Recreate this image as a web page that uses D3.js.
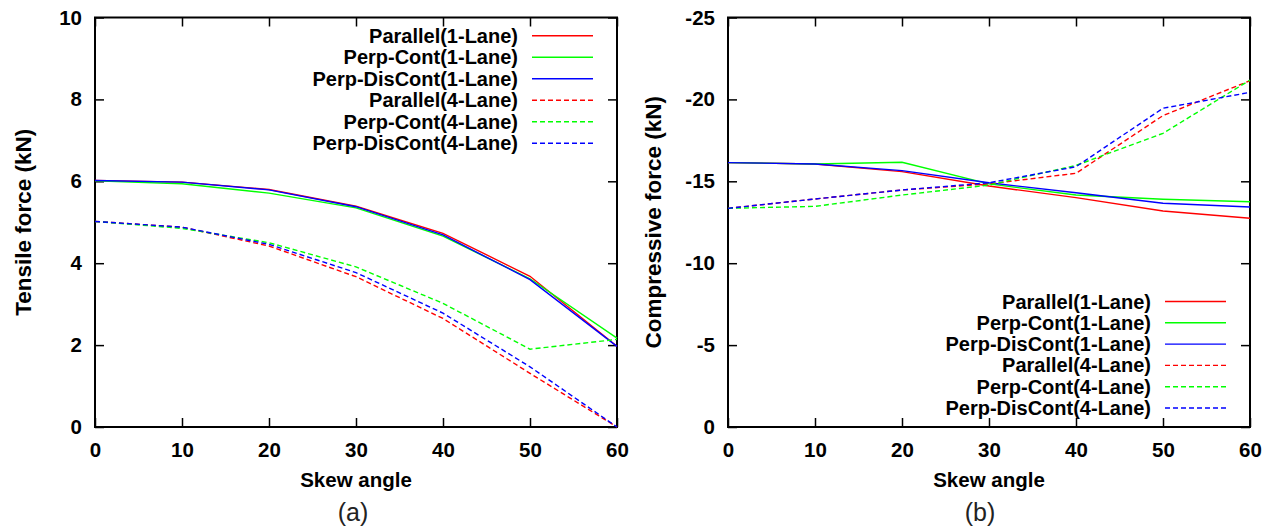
<!DOCTYPE html>
<html>
<head>
<meta charset=utf-8>
<title>Skew angle forces</title>
<style>
body{margin: 0; background: #fff;}
svg{display: block; font-family: "Liberation Sans", Arial, sans-serif;}
.axis text{font-size: 20.5px; font-weight: bold; fill: #000;}
.axis line{stroke: #000; stroke-width: 1.5px;}
.title{font-size: 20.5px; font-weight: bold;}
.ytitle{font-size: 22.5px; font-weight: bold;}
.legend text{font-size: 20px; font-weight: bold;}
.caption{font-size: 25px; fill: #222;}
</style>
</head>
<body>
<div id=wholechart></div>
<script src='https://cdn.jsdelivr.net/npm/d3@7'></script>
<script>
//data
var skewAngles = [0, 10, 20, 30, 40, 50, 60];
var seriesNames = ['Parallel(1-Lane)', 'Perp-Cont(1-Lane)', 'Perp-DisCont(1-Lane)',
                   'Parallel(4-Lane)', 'Perp-Cont(4-Lane)', 'Perp-DisCont(4-Lane)'];
var seriesColors = ['#ff0000', '#00ff00', '#0000ff', '#ff0000', '#00ff00', '#0000ff'];
var seriesDashed = [false, false, false, true, true, true];

//(a) tensile force, kN
var tensileParallel1 = [6.02, 5.98, 5.80, 5.39, 4.73, 3.68, 1.97];
var tensilePerpCont1 = [6.01, 5.94, 5.71, 5.35, 4.66, 3.62, 2.17];
var tensilePerpDis1  = [6.02, 5.98, 5.79, 5.38, 4.69, 3.60, 1.97];
var tensileParallel4 = [5.02, 4.88, 4.42, 3.67, 2.65, 1.31, 0.00];
var tensilePerpCont4 = [5.02, 4.85, 4.50, 3.91, 3.02, 1.90, 2.14];
var tensilePerpDis4  = [5.02, 4.88, 4.46, 3.77, 2.78, 1.47, 0.00];
var tensileTicks = [0, 2, 4, 6, 8, 10];

//(b) compressive force, kN
var compParallel1 = [-16.14, -16.06, -15.59, -14.71, -14.00, -13.19, -12.74];
var compPerpCont1 = [-16.14, -16.06, -16.16, -14.84, -14.16, -13.90, -13.75];
var compPerpDis1  = [-16.14, -16.06, -15.65, -14.91, -14.30, -13.66, -13.43];
var compParallel4 = [-13.35, -13.92, -14.47, -14.84, -15.49, -19.01, -21.14];
var compPerpCont4 = [-13.35, -13.47, -14.16, -14.77, -15.97, -17.93, -21.18];
var compPerpDis4  = [-13.35, -13.92, -14.47, -14.91, -15.89, -19.46, -20.43];
var compTicks = [0, -5, -10, -15, -20, -25];

var xTicks = [0, 10, 20, 30, 40, 50, 60];

var svg = d3.select('#wholechart').append('svg')
    .attr('width', 1276)
    .attr('height', 527);

var panels = [
  {left: 95, right: 617, top: 17.5, bottom: 427,
   domain: [0, 10], ticks: tensileTicks, ytitle: 'Tensile force (kN)', ytitleX: 23,
   caption: '(a)', captionX: 353, legendY: 35.7, legendStep: 21.5,
   series: [tensileParallel1, tensilePerpCont1, tensilePerpDis1, tensileParallel4, tensilePerpCont4, tensilePerpDis4]},
  {left: 728, right: 1250, top: 17.5, bottom: 427,
   domain: [0, -25], ticks: compTicks, ytitle: 'Compressive force (kN)', ytitleX: 653,
   caption: '(b)', captionX: 980, legendY: 301.5, legendStep: 21.3,
   series: [compParallel1, compPerpCont1, compPerpDis1, compParallel4, compPerpCont4, compPerpDis4]}
];

panels.forEach(drawPanel);

function drawPanel(p){
  var x = d3.scaleLinear().domain([0, 60]).range([p.left, p.right]);
  var y = d3.scaleLinear().domain(p.domain).range([p.bottom, p.top]);
  var g = svg.append('g');
  var plain = d => String(d);  //plain hyphen minus, like the original

  //axes with inward ticks, mirrored on top and right
  g.append('g').attr('class', 'axis')
      .attr('transform', 'translate(0,' + p.bottom + ')')
      .call(d3.axisBottom(x).tickValues(xTicks).tickFormat(plain).tickSizeInner(-9).tickSizeOuter(0).tickPadding(15));
  g.append('g').attr('class', 'axis')
      .attr('transform', 'translate(0,' + p.top + ')')
      .call(d3.axisTop(x).tickValues(xTicks).tickSizeInner(-9).tickSizeOuter(0).tickFormat(''));
  g.append('g').attr('class', 'axis')
      .attr('transform', 'translate(' + p.left + ',0)')
      .call(d3.axisLeft(y).tickValues(p.ticks).tickFormat(plain).tickSizeInner(-9).tickSizeOuter(0).tickPadding(13));
  g.append('g').attr('class', 'axis')
      .attr('transform', 'translate(' + p.right + ',0)')
      .call(d3.axisRight(y).tickValues(p.ticks).tickSizeInner(-9).tickSizeOuter(0).tickFormat(''));
  g.selectAll('.axis .domain').remove();

  //frame
  g.append('rect')
      .attr('x', p.left).attr('y', p.top)
      .attr('width', p.right - p.left).attr('height', p.bottom - p.top)
      .attr('fill', 'none').attr('stroke', '#000').attr('stroke-width', 2);

  //lines
  var line = d3.line()
      .x((d, i) => x(skewAngles[i]))
      .y(d => y(d));
  p.series.forEach(function(s, i){
    g.append('path')
        .datum(s)
        .attr('fill', 'none')
        .attr('stroke', seriesColors[i])
        .attr('stroke-width', 1.4)
        .attr('stroke-dasharray', seriesDashed[i] ? '5,3' : null)
        .attr('d', line);
  });

  //legend
  var leg = g.append('g').attr('class', 'legend');
  seriesNames.forEach(function(name, i){
    var ly = p.legendY + i * p.legendStep;
    leg.append('text')
        .attr('x', p.right - 99)
        .attr('y', ly)
        .attr('dy', '0.35em')
        .attr('text-anchor', 'end')
        .text(name);
    leg.append('line')
        .attr('x1', p.right - 85).attr('x2', p.right - 24)
        .attr('y1', ly).attr('y2', ly)
        .attr('stroke', seriesColors[i])
        .attr('stroke-width', 1.4)
        .attr('stroke-dasharray', seriesDashed[i] ? '5,3' : null);
  });

  //titles
  g.append('text').attr('class', 'title')
      .attr('text-anchor', 'middle')
      .attr('x', (p.left + p.right) / 2)
      .attr('y', 487)
      .text('Skew angle');
  g.append('text').attr('class', 'ytitle')
      .attr('text-anchor', 'middle')
      .attr('transform', 'rotate(-90)')
      .attr('x', -(p.top + p.bottom) / 2)
      .attr('y', p.ytitleX)
      .attr('dy', '0.35em')
      .text(p.ytitle);
  g.append('text').attr('class', 'caption')
      .attr('text-anchor', 'middle')
      .attr('x', p.captionX)
      .attr('y', 521)
      .text(p.caption);
}
</script>
</body>
</html>
